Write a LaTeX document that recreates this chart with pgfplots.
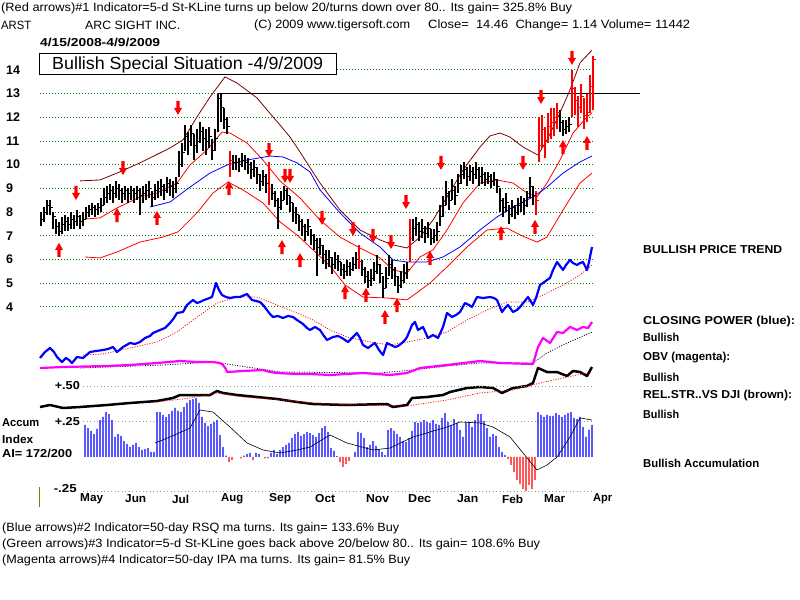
\documentclass[border=0pt]{standalone}
\usepackage{fontspec}
\setmainfont{Liberation Sans}
\usepackage{graphicx}
\usepackage{pgfplots}
\usepackage{pgfplotstable}
\pgfplotsset{compat=1.18}

\definecolor{gridgreen}{RGB}{0,128,0}
\definecolor{bandbrown}{RGB}{128,0,0}
\definecolor{cpblue}{RGB}{0,0,255}
\definecolor{obvmag}{RGB}{255,0,255}
\definecolor{tickolive}{RGB}{128,128,0}
\definecolor{acgray}{RGB}{150,150,150}
\definecolor{sigred}{RGB}{255,0,0}

% set a label to a given width, keeping its height
\newcommand\fitw[2]{\resizebox{#1bp}{\height}{#2}}

% signal arrows
\pgfdeclareplotmark{uarr}{%
  \pgfpathmoveto{\pgfpoint{-1.6bp}{-7bp}}%
  \pgfpathlineto{\pgfpoint{1.6bp}{-7bp}}%
  \pgfpathlineto{\pgfpoint{1.6bp}{0bp}}%
  \pgfpathlineto{\pgfpoint{4bp}{0bp}}%
  \pgfpathlineto{\pgfpoint{0bp}{7bp}}%
  \pgfpathlineto{\pgfpoint{-4bp}{0bp}}%
  \pgfpathlineto{\pgfpoint{-1.6bp}{0bp}}%
  \pgfpathclose\pgfusepathqfill}
\pgfdeclareplotmark{darr}{%
  \pgfpathmoveto{\pgfpoint{-1.6bp}{7bp}}%
  \pgfpathlineto{\pgfpoint{1.6bp}{7bp}}%
  \pgfpathlineto{\pgfpoint{1.6bp}{0bp}}%
  \pgfpathlineto{\pgfpoint{4bp}{0bp}}%
  \pgfpathlineto{\pgfpoint{0bp}{-7bp}}%
  \pgfpathlineto{\pgfpoint{-4bp}{0bp}}%
  \pgfpathlineto{\pgfpoint{-1.6bp}{0bp}}%
  \pgfpathclose\pgfusepathqfill}

\pgfplotsset{panel/.style={at={(40bp,0bp)}, anchor=south west, scale only axis,
  width=555bp, height=600bp, xmin=40, xmax=595, hide axis, clip=false}}

% daily bars: x  low  high  close
\pgfplotstableread{
x lo hi c
41 7.4 8.0 7.7
44 7.6 8.2 8.0
47 7.9 8.5 8.3
50 7.9 8.5 8.2
53 7.3 8.0 7.8
56 7.1 7.7 7.4
59 7.0 7.6 7.2
62 7.1 7.8 7.5
65 7.2 7.9 7.6
68 7.2 7.8 7.5
71 7.3 8.0 7.7
74 7.3 7.9 7.6
77 7.4 8.1 7.8
80 7.3 7.9 7.6
83 7.4 8.0 7.7
86 7.7 8.2 8.0
89 7.8 8.3 8.1
92 7.9 8.4 8.2
95 7.8 8.3 8.1
98 7.9 8.4 8.2
101 8.0 8.6 8.3
104 8.3 9.0 8.6
107 8.4 9.1 8.8
110 8.5 9.2 8.9
113 8.4 9.1 8.8
116 8.6 9.3 9.0
119 8.5 9.2 8.9
122 8.4 9.0 8.8
125 8.5 9.1 8.9
128 8.4 9.0 8.8
131 8.5 9.1 8.9
134 8.4 9.0 8.8
137 8.5 9.1 8.9
140 7.9 9.0 8.7
143 8.4 9.1 8.8
146 8.5 9.2 8.9
149 8.6 9.3 9.0
152 8.2 8.9 8.6
155 8.5 9.2 8.9
158 8.6 9.3 9.0
161 8.7 9.4 9.1
164 8.5 9.2 8.9
167 8.8 9.5 9.2
170 8.7 9.4 9.1
173 8.6 9.3 9.0
176 8.8 9.5 9.2
179 9.5 10.6 10.0
182 9.9 10.9 10.5
185 10.6 11.7 11.2
188 10.4 11.4 11.0
191 10.8 11.7 11.3
194 10.2 11.3 10.8
197 10.5 11.5 11.0
200 10.9 11.8 11.4
203 10.6 11.6 11.1
206 10.4 11.5 11.0
209 10.7 11.6 11.2
212 10.2 11.1 10.6
215 10.6 11.5 11.1
218 11.4 13.0 12.8
221 11.8 13.0 12.4
224 11.5 12.4 11.9
227 11.3 12.0 11.6
233 9.8 10.4 10.1
236 9.8 10.4 10.1
239 9.7 10.3 10.0
242 9.9 10.5 10.2
245 9.8 10.4 10.1
248 9.6 10.3 10.0
251 9.4 10.1 9.8
254 9.5 10.2 9.9
257 9.2 9.9 9.6
260 8.9 9.6 9.3
263 9.1 9.8 9.5
266 8.8 9.6 9.2
272 8.5 9.2 8.8
275 8.2 8.9 8.5
278 7.3 8.6 8.2
281 8.1 8.9 8.5
284 8.5 9.1 8.9
287 8.3 9.0 8.7
290 8.0 8.7 8.4
293 7.6 8.4 8.0
296 7.5 8.2 7.9
299 7.2 7.9 7.6
302 7.0 7.7 7.4
305 6.8 7.5 7.2
308 7.0 7.7 7.4
311 6.6 7.3 7.0
314 6.4 7.1 6.8
317 5.3 6.9 6.5
320 6.2 6.9 6.6
323 5.8 6.6 6.2
326 5.6 6.4 6.0
329 5.7 6.4 6.1
332 5.4 6.1 5.8
335 5.6 6.3 6.0
338 5.5 6.2 5.9
341 5.3 5.9 5.6
344 5.2 5.8 5.5
347 5.3 6.0 5.7
350 5.3 5.9 5.6
353 5.5 6.1 5.8
356 5.6 6.3 6.0
362 5.3 6.0 5.6
365 5.0 5.7 5.3
368 4.8 5.5 5.1
371 4.9 5.6 5.2
374 5.1 5.9 5.5
377 5.4 6.2 5.8
380 5.0 5.8 5.4
383 4.4 5.3 4.8
386 4.8 5.7 5.2
389 5.3 6.2 5.8
392 5.2 6.0 5.6
395 4.9 5.7 5.3
398 4.6 5.3 4.9
401 4.8 5.5 5.1
404 5.0 5.8 5.4
407 5.2 5.9 5.6
413 6.8 7.7 7.3
416 7.0 7.8 7.5
419 6.8 7.6 7.2
422 6.9 7.7 7.3
425 6.7 7.4 7.1
428 6.9 7.6 7.3
431 6.6 7.3 6.9
434 6.7 7.3 7.0
437 6.8 7.6 7.2
440 7.4 8.3 7.8
443 7.8 8.7 8.3
446 8.3 9.3 8.8
449 8.1 8.9 8.5
452 8.5 9.4 8.9
455 8.3 9.1 8.7
458 8.8 9.6 9.2
461 9.2 10.0 9.6
464 9.4 10.1 9.8
467 9.1 9.9 9.5
470 9.3 10.0 9.7
473 9.2 9.9 9.6
476 9.4 10.1 9.8
479 9.1 9.9 9.5
482 9.2 9.9 9.6
485 9.1 9.7 9.4
488 9.2 9.7 9.5
491 9.0 9.6 9.3
494 9.1 9.7 9.4
497 8.8 9.4 9.1
500 8.0 9.0 8.5
503 7.8 8.6 8.2
506 8.0 8.8 8.4
509 7.5 8.3 7.9
512 7.8 8.5 8.2
515 7.7 8.3 8.0
518 7.9 8.6 8.3
521 8.0 8.7 8.4
524 7.9 8.6 8.3
527 8.2 8.9 8.6
530 8.6 9.5 9.1
533 8.3 9.1 8.7
560 11.4 12.3 11.8
563 11.2 11.9 11.5
566 11.3 11.9 11.6
569 11.4 12.0 11.7
}\blackbars

\pgfplotstableread{
x lo hi c
230 9.5 10.6 10.2
269 8.3 10.1 9.0
359 5.6 6.6 5.9
410 5.9 7.7 6.9
536 7.9 8.9 8.5
539 10.1 12.0 10.8
542 10.7 12.1 11.5
545 10.3 11.6 11.0
548 10.9 12.2 11.6
551 11.1 12.4 11.8
554 11.2 12.4 12.0
557 11.5 12.6 12.2
572 12.0 14.0 13.2
575 12.1 13.3 12.7
578 11.6 12.9 12.4
581 12.2 13.4 12.9
584 11.5 12.8 12.1
587 11.8 13.0 12.2
590 12.2 13.8 13.3
593 12.3 14.6 14.46
}\redbars

\begin{document}
\begin{tikzpicture}
\useasboundingbox (0,0) rectangle (800bp,600bp);
\fill[white] (0,0) rectangle (800bp,600bp);

% ---------------- price panel ----------------
\begin{axis}[panel, ymin=-8.3629, ymax=16.9536]
  % dotted price grid
  \pgfplotsinvokeforeach{4,...,14}{
    \addplot[gridgreen, line width=1bp, dash pattern=on 1bp off 2bp] coordinates {(40,#1) (595,#1)};
  }
  % upper outer band
  \addplot[bandbrown, line width=0.8bp] coordinates {
    (80,9.32) (100,9.36) (117,9.65) (140,10.08) (170,10.71) (183,11.05) (197,12.02)
    (210,12.86) (225,13.71) (237,13.45) (257,12.82) (273,12.02) (280,11.68) (290,11.17)
    (300,10.54) (320,9.23) (340,8.09) (360,7.25) (380,6.83) (393,6.62) (407,6.49)
    (420,6.95) (433,7.67) (447,8.64) (463,9.78) (480,10.75) (490,11.22) (500,11.34)
    (510,11.17) (523,10.75) (538,10.41) (547,11.05) (560,12.19) (570,13.16) (580,14.30)
    (592,14.84)};
  % inner band
  \addplot[sigred, line width=0.8bp] coordinates {
    (85,7.71) (100,7.76) (117,8.18) (140,8.64) (157,8.81) (177,9.23) (190,9.99)
    (207,10.63) (222,11.38) (230,11.34) (247,10.92) (263,10.20) (280,9.32) (300,8.60)
    (320,7.67) (340,6.95) (360,6.49) (380,6.07) (393,5.56) (407,5.44) (420,6.11)
    (433,6.41) (447,7.25) (463,8.39) (480,9.23) (497,9.36) (513,9.23) (527,8.81)
    (537,8.64) (547,9.23) (560,10.20) (573,11.34) (587,12.02) (592,12.19)};
  % lower band
  \addplot[sigred, line width=0.8bp] coordinates {
    (85,6.11) (100,6.07) (117,6.32) (140,6.74) (163,6.95) (178,7.17) (197,7.97)
    (213,8.81) (228,9.27) (243,8.94) (263,8.39) (280,7.59) (297,7.04) (310,6.53)
    (330,5.73) (345,4.93) (363,4.42) (387,4.38) (407,4.30) (430,5.01) (447,5.69)
    (467,6.53) (487,7.25) (507,7.33) (520,7.04) (537,6.74) (547,6.95) (563,8.09)
    (580,9.23) (592,9.65)};
  % 50-day average
  \addplot[cpblue, line width=0.8bp] coordinates {
    (150,8.22) (170,8.43) (190,9.06) (210,9.65) (227,9.99) (247,10.20) (270,10.37)
    (283,10.33) (297,10.08) (310,9.70) (320,8.94) (340,7.97) (360,7.12) (380,6.53)
    (393,5.98) (407,5.90) (427,5.90) (443,6.11) (460,6.53) (480,7.25) (497,7.80)
    (513,8.22) (533,8.64) (547,9.06) (563,9.65) (580,10.12) (592,10.37)};
  % prior high
  \addplot[black, line width=1bp] coordinates {(218,13.0) (640,13.0)};
  % daily bars
  \addplot[only marks, black, mark=-, mark size=1.6bp, mark options={xshift=1.4bp, line width=1bp},
    error bars/.cd, y dir=both, y explicit, error mark=none,
    error bar style={line width=1.1bp, black}]
    table[x=x, y=c, y error plus expr=\thisrow{hi}-\thisrow{c}, y error minus expr=\thisrow{c}-\thisrow{lo}] {\blackbars};
  \addplot[only marks, sigred, mark=-, mark size=1.6bp, mark options={xshift=1.4bp, line width=1bp},
    error bars/.cd, y dir=both, y explicit, error mark=none,
    error bar style={line width=1.1bp, sigred}]
    table[x=x, y=c, y error plus expr=\thisrow{hi}-\thisrow{c}, y error minus expr=\thisrow{c}-\thisrow{lo}] {\redbars};
  % sell signals
  \addplot[only marks, mark=darr, sigred] coordinates {
    (76,8.81) (123,9.86) (178,12.40) (269,10.62) (285,9.53) (290,9.53) (322,7.76)
    (353,7.29) (373,7.00) (391,6.74) (406,8.43) (441,10.08) (523,10.08) (541,12.86)
    (572,14.51)};
  % buy signals
  \addplot[only marks, mark=uarr, sigred] coordinates {
    (59,6.41) (117,7.88) (157,7.76) (229,9.02) (282,6.53) (300,5.98) (345,4.63)
    (366,4.51) (385,3.58) (397,4.08) (430,6.07) (501,7.12) (535,7.38) (563,10.75)
    (587,10.92)};
\end{axis}

% ---------------- closing power, OBV, relative strength ----------------
\begin{axis}[panel, ymin=0, ymax=600, y dir=reverse]
  % closing power and its average
  \addplot[sigred, line width=0.8bp, dash pattern=on 1bp off 1.5bp] coordinates {
    (83,355) (103,354) (130,348) (157,342) (177,332) (197,317) (217,303) (237,297)
    (257,297) (277,305) (297,313) (313,320) (330,330) (347,337) (370,342) (390,345)
    (407,342) (427,338) (447,332) (467,320) (487,310) (507,302) (527,302) (543,295)
    (563,285) (580,275) (592,265)};
  \addplot[cpblue, line width=2.2bp, line join=round] coordinates {
    (40,358) (45,352) (50,348) (54,352) (57,357) (62,362) (66,358) (69,360) (72,363)
    (77,357) (83,358) (90,352) (96,351) (103,350) (108,349) (113,347) (117,352)
    (123,347) (130,343) (135,344) (140,342) (145,338) (150,336) (153,333) (160,330)
    (165,328) (170,323) (174,318) (177,313) (183,312) (187,305) (193,300) (197,303)
    (200,302) (204,300) (207,299) (212,297) (216,283) (219,290) (222,295) (226,297)
    (230,298) (235,297) (240,297) (247,294) (252,300) (256,301) (260,302) (264,306)
    (267,310) (270,314) (273,317) (278,316) (283,318) (288,316) (293,317) (297,320)
    (300,322) (303,324) (307,328) (310,330) (315,327) (320,330) (324,336) (327,340)
    (333,337) (338,336) (342,338) (348,342) (352,338) (357,333) (360,338) (363,345)
    (368,348) (372,345) (375,343) (379,350) (383,355) (387,343) (391,345) (395,347)
    (398,346) (402,343) (405,340) (407,337) (410,330) (412,325) (415,322) (418,330)
    (423,327) (428,338) (433,335) (438,338) (443,327) (447,313) (452,317) (456,315)
    (460,312) (465,303) (469,305) (472,307) (477,297) (483,298) (490,297) (494,298)
    (497,300) (502,312) (505,308) (508,305) (513,312) (517,310) (520,307) (524,302)
    (528,297) (533,305) (536,298) (540,285) (543,283) (547,280) (550,278) (553,270)
    (557,262) (563,270) (566,265) (570,260) (573,263) (577,265) (580,263) (583,262)
    (587,270) (589,262) (592,247)};
  % on-balance volume and its average
  \addplot[black, line width=0.8bp, dash pattern=on 1bp off 1.5bp] coordinates {
    (80,368) (163,365) (213,362) (247,367) (280,372) (380,373) (413,370) (447,366)
    (480,363) (533,363) (547,353) (567,343) (592,332)};
  \addplot[obvmag, line width=2.2bp, line join=round] coordinates {
    (40,368) (63,367) (107,366) (130,365) (157,363) (180,361) (197,362) (213,362)
    (220,363) (223,365) (226,369) (227,372) (243,371) (263,370) (270,372) (277,373)
    (297,374) (310,374) (330,375) (363,373) (390,375) (407,373) (420,368) (447,365)
    (480,361) (500,363) (533,364) (538,347) (543,338) (550,343) (557,332) (563,333)
    (570,327) (577,330) (583,327) (588,328) (592,322)};
  % relative strength and its average
  \addplot[black, line width=2.5bp, line join=round] coordinates {
    (40,407) (50,405) (63,408) (80,407) (107,405) (130,403) (157,401) (173,398)
    (180,395) (197,395) (210,395) (217,391) (223,393) (237,395) (257,397) (277,399)
    (297,402) (313,404) (347,405) (387,404) (393,407) (407,405) (412,398) (427,397)
    (443,395) (450,392) (467,388) (480,387) (493,388) (502,393) (513,388) (527,386)
    (533,383) (538,368) (547,372) (557,372) (567,376) (573,371) (580,372) (587,376)
    (592,367)};
  \addplot[sigred, line width=0.8bp, dash pattern=on 1bp off 1.5bp] coordinates {
    (157,402) (190,398) (217,393) (243,397) (283,400) (313,403) (360,405) (407,406)
    (447,400) (480,393) (513,390) (540,383) (567,377) (592,372)};
\end{axis}

% ---------------- accumulation index ----------------
\begin{axis}[panel, ymin=-1.02143, ymax=3.26429]
  \pgfplotsinvokeforeach{0.5,0.25,-0.25}{
    \addplot[acgray, line width=1bp, dash pattern=on 1bp off 2.5bp] coordinates {(83,#1) (592,#1)};
  }
  \addplot[ybar, bar width=1.1bp, bar shift=0pt, fill=cpblue, draw=none] coordinates {
    (85,0.229) (88,0.207) (91,0.186) (94,0.164) (97,0.2) (100,0.264) (103,0.286)
    (106,0.321) (109,0.307) (112,0.264) (115,0.143) (118,0.164) (121,0.15) (124,0.114)
    (127,0.093) (130,0.071) (133,0.086) (136,0.1) (139,0.071) (142,0.05) (145,0.057)
    (148,0.064) (151,0.036) (154,0.036) (157,0.321) (160,0.321) (163,0.3) (166,0.286)
    (169,0.307) (172,0.329) (175,0.35) (178,0.329) (181,0.321) (184,0.357) (187,0.386)
    (190,0.407) (193,0.414) (196,0.421) (199,0.386) (202,0.286) (205,0.243) (208,0.221)
    (211,0.236) (214,0.25) (217,0.264) (220,0.157) (223,0.071) (226,0.01)
    (244,0.01) (247,0.02) (250,0.03) (256,0.03) (259,0.02) (271,0.03) (274,0.05)
    (277,0.02) (280,0.05) (283,0.071) (286,0.086) (289,0.1) (292,0.136) (295,0.164)
    (298,0.179) (301,0.15) (304,0.164) (307,0.179) (310,0.171) (313,0.157) (316,0.143)
    (319,0.171) (322,0.207) (325,0.221) (328,0.179) (331,0.064) (334,0.043) (337,0.007)
    (355,0.036) (358,0.179) (361,0.171) (364,0.136) (367,0.071) (370,0.086) (373,0.114)
    (376,0.079) (379,0.057) (382,0.036) (385,0.014) (388,0.193) (391,0.207) (394,0.186)
    (397,0.164) (400,0.143) (403,0.114) (406,0.107) (409,0.136) (412,0.186) (415,0.25)
    (418,0.243) (421,0.25) (424,0.264) (427,0.25) (430,0.243) (433,0.264) (436,0.236)
    (439,0.229) (442,0.279) (445,0.314) (448,0.25) (451,0.229) (454,0.271) (457,0.243)
    (460,0.193) (463,0.143) (466,0.243) (469,0.25) (472,0.214) (475,0.264) (478,0.307)
    (481,0.307) (484,0.257) (487,0.207) (490,0.143) (493,0.164) (496,0.15) (499,0.071)
    (502,0.036) (505,0.014) (538,0.321) (541,0.3) (544,0.286) (547,0.3) (550,0.293)
    (553,0.293) (556,0.314) (559,0.3) (562,0.286) (565,0.3) (568,0.314) (571,0.321)
    (574,0.279) (577,0.271) (580,0.286) (583,0.214) (586,0.143) (589,0.193) (592,0.229)};
  \addplot[ybar, bar width=1.1bp, bar shift=0pt, fill=sigred, draw=none] coordinates {
    (229,-0.036) (232,-0.02) (241,-0.01) (253,-0.02) (265,-0.01) (268,-0.01)
    (340,-0.036) (343,-0.071) (346,-0.05) (349,-0.029) (508,-0.014) (511,-0.057)
    (514,-0.107) (517,-0.164) (520,-0.193) (523,-0.229) (526,-0.243) (529,-0.2)
    (532,-0.229) (535,-0.164)};
  % average of the index
  \addplot[black, line width=0.6bp] coordinates {
    (155,0.1) (170,0.143) (190,0.207) (200,0.336) (213,0.321) (230,0.214) (247,0.1)
    (263,0.05) (280,0.029) (297,0.05) (310,0.071) (330,0.157) (347,0.1) (373,0.05)
    (390,0.064) (413,0.143) (447,0.214) (460,0.25) (480,0.243) (493,0.214) (510,0.143)
    (523,0.029) (537,-0.093) (547,-0.057) (557,0) (570,0.143) (580,0.279) (592,0.264)};
\end{axis}

% ---------------- text ----------------
\begin{scope}[shift={(0bp,600bp)}, x=1bp, y=-1bp, every node/.style={inner sep=0pt, anchor=west}]
  \fill[white] (39,54) rectangle (336,75);
  \draw[black, line width=1bp] (39,54) rectangle (336,75);
  \node at (52,65) {\fontsize{17.5bp}{20bp}\selectfont\fitw{271}{Bullish Special Situation -4/9/2009}};

  \begin{scope}[every node/.append style={font=\fontsize{12bp}{14bp}\selectfont}]
    \node at (1,8) {\fitw{571}{(Red arrows)\#1 Indicator=5-d St-KLine turns up below 20/turns down over 80.. Its gain= 325.8\% Buy}};
    \node at (1,25) {\fitw{30}{ARST}};
    \node at (85,25) {\fitw{95}{ARC SIGHT INC.}};
    \node at (254,25) {\fitw{156}{(C) 2009 www.tigersoft.com}};
    \node at (428,25) {\fitw{262}{Close=\ \ 14.46\ \ Change= 1.14 Volume= 11442}};
    \node at (2,528) {\fitw{397}{(Blue arrows)\#2 Indicator=50-day RSQ ma turns. Its gain= 133.6\% Buy}};
    \node at (2,544) {\fitw{538}{(Green arrows)\#3 Indicator=5-d St-KLine goes back above 20/below 80.. Its gain= 108.6\% Buy}};
    \node at (2,560) {\fitw{408}{(Magenta arrows)\#4 Indicator=50-day IPA ma turns. Its gain= 81.5\% Buy}};
  \end{scope}

  \begin{scope}[every node/.append style={font=\fontsize{11.5bp}{13bp}\selectfont\bfseries}]
    \node at (40,42) {\fitw{120}{4/15/2008-4/9/2009}};
    \node at (643,250) {\fitw{139}{BULLISH PRICE TREND}};
    \node at (643,322) {\fitw{152}{CLOSING POWER (blue):}};
    \node at (643,337) {\fitw{36}{Bullish}};
    \node at (643,358) {\fitw{87}{OBV (magenta):}};
    \node at (643,377) {\fitw{36}{Bullish}};
    \node at (643,396) {\fitw{149}{REL.STR..VS DJI (brown):}};
    \node at (643,414) {\fitw{36}{Bullish}};
    \node at (643,463) {\fitw{116}{Bullish Accumulation}};
    \node at (2,423) {\fitw{37}{Accum}};
    \node at (2,439) {\fitw{31}{Index}};
    \node at (2,453) {\fitw{70}{AI= 172/200}};
    \node[anchor=east] at (80,386) {\fitw{25}{+.50}};
    \node[anchor=east] at (80,422) {\fitw{25}{+.25}};
    \node[anchor=east] at (77,489) {\fitw{23}{-.25}};
    \node at (80,499) {\fitw{23}{May}};
    \node at (125,499) {\fitw{21}{Jun}};
    \node at (172,499) {\fitw{17}{Jul}};
    \node at (221,499) {\fitw{22}{Aug}};
    \node at (269,499) {\fitw{22}{Sep}};
    \node at (315,499) {\fitw{20}{Oct}};
    \node at (366,499) {\fitw{23}{Nov}};
    \node at (408,499) {\fitw{23}{Dec}};
    \node at (457,499) {\fitw{21}{Jan}};
    \node at (502,499) {\fitw{21}{Feb}};
    \node at (544,499) {\fitw{21}{Mar}};
    \node at (593,499) {\fitw{19}{Apr}};
  \end{scope}

  \begin{scope}[every node/.append style={font=\fontsize{12.5bp}{14bp}\selectfont\bfseries}]
    \node at (6,70) {14};
    \node at (6,93) {13};
    \node at (6,117) {12};
    \node at (6,141) {11};
    \node at (6,164) {10};
    \node at (6,188) {9};
    \node at (6,212) {8};
    \node at (6,236) {7};
    \node at (6,259) {6};
    \node at (6,283) {5};
    \node at (6,307) {4};
  \end{scope}

  \draw[tickolive, line width=1bp] (39,487) -- (39,507);
\end{scope}
\end{tikzpicture}
\end{document}
